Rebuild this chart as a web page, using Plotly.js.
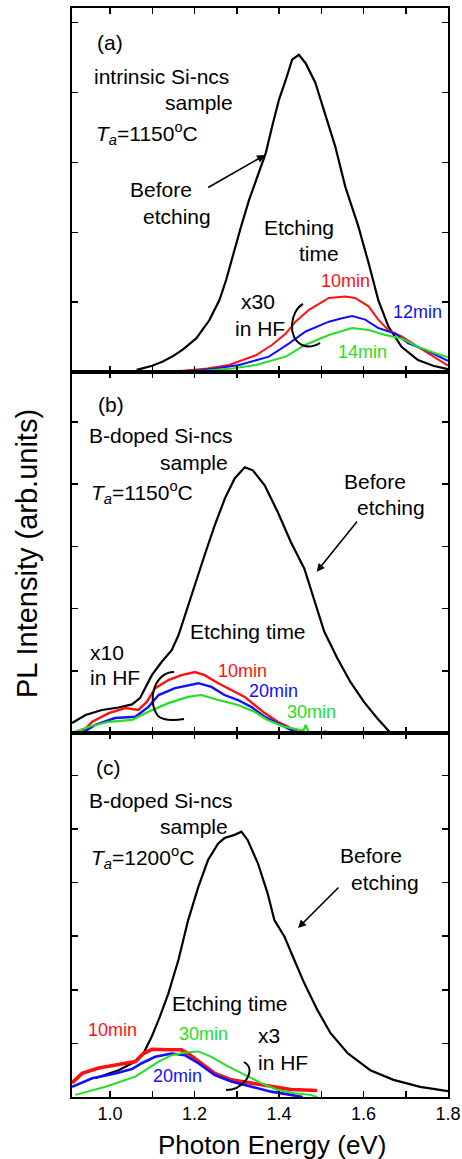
<!DOCTYPE html>
<html><head><meta charset="utf-8">
<script src="https://cdn.plot.ly/plotly-3.0.1.min.js"></script>
<style>html,body{margin:0;padding:0;background:#fff}</style>
</head><body><div id="chart" style="width:462px;height:1159px"></div>
<script>
// ---- Panel (a): intrinsic Si-ncs, Ta=1150C ----
const a_before_x = [1.063,1.10,1.125,1.15,1.172,1.204,1.235,1.259,1.275,1.29,1.31,1.329,1.353,1.369,1.384,1.40,1.416,1.431,1.447,1.463,1.486,1.51,1.533,1.557,1.588,1.612,1.635,1.659,1.69,1.729,1.765,1.8];
const a_before_y = [0.03,0.09,0.15,0.23,0.32,0.48,0.74,1.03,1.32,1.65,2.08,2.46,2.85,3.14,3.52,3.90,4.18,4.47,4.54,4.42,4.14,3.67,3.23,2.65,2.08,1.56,1.03,0.65,0.36,0.17,0.09,0.04];
const a_10_x = [1.145,1.18,1.23,1.282,1.345,1.384,1.416,1.439,1.471,1.518,1.557,1.58,1.612,1.635,1.659,1.69,1.729,1.765,1.8];
const a_10_y = [0.01,0.02,0.05,0.10,0.24,0.39,0.55,0.72,0.89,1.06,1.08,1.06,0.94,0.75,0.60,0.51,0.36,0.22,0.09];
const a_12_x = [1.149,1.204,1.25,1.306,1.376,1.424,1.463,1.518,1.549,1.573,1.604,1.635,1.675,1.706,1.745,1.8];
const a_12_y = [0.01,0.02,0.05,0.10,0.22,0.41,0.58,0.72,0.77,0.80,0.75,0.63,0.55,0.41,0.32,0.16];
const a_14_x = [1.178,1.23,1.29,1.345,1.416,1.463,1.518,1.573,1.612,1.651,1.69,1.729,1.765,1.8];
const a_14_y = [0.01,0.02,0.05,0.10,0.22,0.39,0.53,0.63,0.60,0.53,0.48,0.36,0.28,0.21];

// ---- Panel (b): B-doped Si-ncs, Ta=1150C ----
const b_before_x = [0.91,0.942,0.981,1.02,1.052,1.071,1.083,1.099,1.122,1.146,1.162,1.177,1.201,1.224,1.248,1.272,1.295,1.319,1.338,1.366,1.397,1.428,1.46,1.483,1.507,1.538,1.569,1.601,1.632,1.664];
const b_before_y = [0.16,0.29,0.37,0.41,0.46,0.56,0.72,0.93,1.14,1.33,1.57,1.89,2.38,2.86,3.34,3.77,4.09,4.27,4.22,3.98,3.55,3.07,2.64,2.16,1.63,1.20,0.82,0.50,0.24,0.0];
const b_10_x = [0.92,0.934,0.958,0.997,1.036,1.067,1.087,1.107,1.138,1.169,1.201,1.224,1.256,1.287,1.319,1.342,1.366,1.397,1.428,1.452];
const b_10_y = [0.0,0.02,0.18,0.32,0.40,0.37,0.50,0.72,0.85,0.93,0.98,0.93,0.80,0.69,0.58,0.45,0.32,0.18,0.08,0.0];
const b_20_x = [0.934,0.965,1.012,1.06,1.091,1.115,1.154,1.209,1.24,1.271,1.303,1.334,1.366,1.397,1.428,1.44];
const b_20_y = [0.0,0.13,0.24,0.26,0.42,0.61,0.72,0.80,0.74,0.61,0.53,0.42,0.26,0.16,0.05,0.0];
const b_30_x = [0.91,0.95,0.997,1.052,1.091,1.138,1.185,1.216,1.256,1.303,1.342,1.373,1.412,1.444,1.458,1.463,1.47,1.50,1.51,1.52];
const b_30_y = [0.0,0.10,0.18,0.21,0.34,0.48,0.58,0.61,0.53,0.45,0.34,0.21,0.10,0.05,0.04,0.13,0.02,0.0,0.03,0.0];

// ---- Panel (c): B-doped Si-ncs, Ta=1200C ----
const c_before_x = [0.965,1.02,1.06,1.079,1.099,1.118,1.138,1.162,1.185,1.209,1.232,1.256,1.271,1.295,1.311,1.326,1.35,1.373,1.389,1.413,1.436,1.46,1.491,1.522,1.562,1.616,1.671,1.734,1.8];
const c_before_y = [0.35,0.50,0.66,0.81,1.13,1.50,1.93,2.56,3.30,3.92,4.42,4.73,4.83,4.89,4.95,4.79,4.36,3.80,3.30,2.99,2.56,2.12,1.62,1.19,0.82,0.50,0.32,0.19,0.11];
const c_10_x = [0.91,0.934,0.973,1.02,1.06,1.079,1.099,1.138,1.169,1.185,1.216,1.248,1.287,1.334,1.381,1.428,1.49];
const c_10_y = [0.26,0.44,0.54,0.60,0.66,0.81,0.89,0.88,0.88,0.81,0.63,0.44,0.32,0.26,0.19,0.14,0.12];
const c_20_x = [0.91,0.958,1.012,1.052,1.075,1.107,1.146,1.177,1.209,1.248,1.287,1.334,1.381,1.428,1.456];
const c_20_y = [0.19,0.35,0.44,0.52,0.63,0.75,0.81,0.78,0.63,0.41,0.29,0.19,0.10,0.04,0.0];
const c_30_x = [0.918,0.989,1.06,1.083,1.115,1.146,1.177,1.209,1.24,1.279,1.319,1.358,1.397,1.436,1.475,1.49];
const c_30_y = [0.04,0.19,0.38,0.50,0.66,0.78,0.83,0.85,0.75,0.57,0.41,0.26,0.13,0.07,0.04,0.0];

const BLACK = '#000000', RED = '#ff1010', BLUE = '#1010ff', GREEN = '#22e022';
const FONT = 'Liberation Sans, Arial, Helvetica, sans-serif';

function tr(x, y, color, yax, w) {
  return {x: x, y: y, type: 'scatter', mode: 'lines', yaxis: yax, xaxis: 'x',
          line: {color: color, width: w || 2}, hoverinfo: 'skip'};
}
const data = [
  tr(a_before_x, a_before_y, BLACK, 'y', 2.2),
  tr(a_10_x, a_10_y, RED, 'y'), tr(a_12_x, a_12_y, BLUE, 'y'), tr(a_14_x, a_14_y, GREEN, 'y'),
  tr(b_before_x, b_before_y, BLACK, 'y2', 2.2),
  tr(b_10_x, b_10_y, RED, 'y2', 2.4), tr(b_20_x, b_20_y, BLUE, 'y2', 2.4), tr(b_30_x, b_30_y, GREEN, 'y2', 2.2),
  tr(c_before_x, c_before_y, BLACK, 'y3', 2.2),
  tr(c_10_x, c_10_y, RED, 'y3', 3.6), tr(c_20_x, c_20_y, BLUE, 'y3', 2.6), tr(c_30_x, c_30_y, GREEN, 'y3', 2)
];

// pixel -> paper helpers (plot area: x 72..448, y 8..1097)
const L = 72, R = 448, T = 8, B = 1097;
const px = x => (x - L) / (R - L);
const py = y => (B - y) / (B - T);
function txt(x, y, s, color, size, anchor) {
  return {xref: 'paper', yref: 'paper', x: px(x), y: py(y), text: s, showarrow: false,
          xanchor: anchor || 'center', yanchor: 'middle',
          font: {family: FONT, size: size || 21, color: color || BLACK}};
}
function arrow(x0, y0, x1, y1) {
  return {xref: 'paper', yref: 'paper', x: px(x1), y: py(y1), ax: x0 - x1, ay: y0 - y1,
          text: '', showarrow: true, arrowhead: 2, arrowsize: 1, arrowwidth: 1.6, arrowcolor: BLACK};
}
function pathPx(cmds) {
  return cmds.map(c => typeof c === 'string' ? c : px(c[0]).toFixed(5) + ',' + py(c[1]).toFixed(5)).join(' ');
}
const Ta = v => '<i>T</i><sub><i>a</i></sub>=' + v + '<sup>o</sup>C';

const annotations = [
  // (a)
  txt(110, 42, '(a)'),
  txt(161.7, 76, 'intrinsic Si-ncs'),
  txt(198.7, 102, 'sample'),
  txt(94, 134, Ta(1150), BLACK, 21, 'left'),
  txt(161.3, 189.5, 'Before'),
  txt(176.8, 216.5, 'etching'),
  arrow(206.7, 188.3, 265, 155),
  txt(299.2, 227, 'Etching'),
  txt(319.3, 253.5, 'time'),
  txt(345.7, 281, '10min', RED, 18),
  txt(417.7, 311.7, '12min', BLUE, 18),
  txt(362.3, 351.7, '14min', GREEN, 18),
  txt(257.5, 302, 'x30'),
  txt(260, 328.5, 'in HF'),
  // (b)
  txt(111, 405, '(b)'),
  txt(160.7, 435, 'B-doped Si-ncs'),
  txt(193.8, 462, 'sample'),
  txt(89, 492, Ta(1150), BLACK, 21, 'left'),
  txt(375.3, 482, 'Before'),
  txt(390.5, 507, 'etching'),
  arrow(358.3, 520, 316.7, 571.7),
  txt(247.5, 631, 'Etching time'),
  txt(106.7, 652, 'x10'),
  txt(115, 677, 'in HF'),
  txt(242, 670.7, '10min', RED, 18),
  txt(273.7, 690.7, '20min', BLUE, 18),
  txt(311.7, 712.3, '30min', GREEN, 18),
  // (c)
  txt(108, 767, '(c)'),
  txt(160.7, 800, 'B-doped Si-ncs'),
  txt(193.8, 826.7, 'sample'),
  txt(89, 857, Ta(1200), BLACK, 21, 'left'),
  txt(370.5, 855, 'Before'),
  txt(385, 882, 'etching'),
  arrow(340, 886, 298, 928),
  txt(229.5, 1003.3, 'Etching time'),
  txt(112, 1030, '10min', RED, 18),
  txt(203.3, 1034, '30min', GREEN, 18),
  txt(177, 1076, '20min', BLUE, 18),
  txt(269, 1035, 'x3'),
  txt(283.3, 1062, 'in HF'),
  // axis titles
  {xref: 'paper', yref: 'paper', x: px(27), y: py(554), text: 'PL Intensity (arb.units)', textangle: -90,
   showarrow: false, xanchor: 'center', yanchor: 'middle', font: {family: FONT, size: 29, color: BLACK}},
  {xref: 'paper', yref: 'paper', x: px(271.5), y: py(1145), text: 'Photon Energy (eV)',
   showarrow: false, xanchor: 'center', yanchor: 'middle', font: {family: FONT, size: 26, color: BLACK}}
];

const bracketLine = {color: BLACK, width: 2};
const shapes = [
  {type: 'path', xref: 'paper', yref: 'paper', line: bracketLine,
   path: pathPx(['M', [303, 304], 'C', [290, 311], [287, 338], [302, 345], 'Q', [310, 349], [320, 343]])},
  {type: 'path', xref: 'paper', yref: 'paper', line: bracketLine,
   path: pathPx(['M', [174, 672], 'C', [155, 672], [146, 700], [158, 716], 'Q', [165, 722], [184, 719]])},
  {type: 'path', xref: 'paper', yref: 'paper', line: bracketLine,
   path: pathPx(['M', [244, 1062], 'Q', [254, 1068], [246, 1080], 'Q', [238, 1090], [226, 1090]])}
];

const yCommon = {showticklabels: false, ticks: 'inside', ticklen: 6, tickwidth: 1.5, tickcolor: BLACK,
                 dtick: 1, tick0: 0, mirror: 'ticks', showline: true, linewidth: 1.6, linecolor: BLACK,
                 showgrid: false, zeroline: false, anchor: 'x', fixedrange: true};
const d1 = (B - 733) / (B - T), d2 = (B - 372) / (B - T);
const layout = {
  width: 462, height: 1159,
  margin: {l: L, r: 462 - R, t: T, b: 1159 - B, pad: 0},
  paper_bgcolor: '#ffffff', plot_bgcolor: '#ffffff', showlegend: false,
  font: {family: FONT, color: BLACK},
  xaxis: {range: [0.91, 1.8], anchor: 'y3', ticks: 'inside', ticklen: 6, tickwidth: 1.5, tickcolor: BLACK,
          tick0: 1.0, dtick: 0.2, tickformat: '.1f',
          minor: {dtick: 0.1, ticks: 'inside', ticklen: 6, tickwidth: 1.5, tickcolor: BLACK},
          mirror: 'allticks', showline: true, linewidth: 1.6, linecolor: BLACK,
          showgrid: false, zeroline: false, tickfont: {family: FONT, size: 18, color: BLACK}, fixedrange: true},
  yaxis: Object.assign({}, yCommon, {domain: [d2, 1], range: [0, 5.21]}),
  yaxis2: Object.assign({}, yCommon, {domain: [d1, d2], range: [0, 5.8]}),
  yaxis3: Object.assign({}, yCommon, {domain: [0, d1], range: [0, 6.79]}),
  annotations: annotations,
  shapes: shapes
};
Plotly.newPlot('chart', data, layout, {staticPlot: true, displayModeBar: false});
</script></body></html>
